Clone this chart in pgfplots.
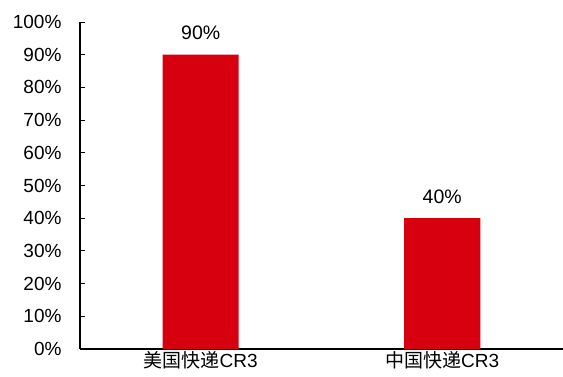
\documentclass[border=0pt]{standalone}
\usepackage{pgfplots}
\pgfplotsset{compat=1.18}
\usepackage{fontspec}
\setmainfont{Liberation Sans}
\newfontfamily\cjk{Noto Sans CJK SC}
\definecolor{barred}{HTML}{D7000F}
\begin{document}
\fontsize{19}{22}\selectfont
\begin{tikzpicture}[x=1pt,y=1pt]
\useasboundingbox (-80,-27) rectangle (483,349);
\begin{axis}[
  at={(0,0)}, anchor=south west,
  scale only axis, width=483pt, height=327pt,
  xmin=-0.5, xmax=1.5, ymin=0, ymax=100,
  axis x line*=bottom, axis y line*=left,
  axis line style={black, line width=1.4pt, -},
  xtick=data, xticklabels={{\cjk 美国快递}CR3,{\cjk 中国快递}CR3},
  major x tick style={draw=none},
  ytick={0,10,...,100},
  yticklabel={\pgfmathprintnumber{\tick}\%},
  /pgf/number format/assume math mode=true,
  tick style={black, line width=1pt},
  major tick length=5pt,
  ytick align=inside,
  yticklabel style={xshift=-12pt},
  xticklabel style={yshift=3.5pt, inner sep=1pt},
  tick label style={font=\fontsize{19}{22}\selectfont},
  ybar, bar width=76pt,
  nodes near coords={\pgfmathprintnumber{\pgfplotspointmeta}\%},
  nodes near coords style={font=\fontsize{19.5}{22}\selectfont, yshift=8pt},
  clip=false,
]
\addplot[fill=barred, draw=none] coordinates {(0,90) (1,40)};
\end{axis}
\end{tikzpicture}
\end{document}
